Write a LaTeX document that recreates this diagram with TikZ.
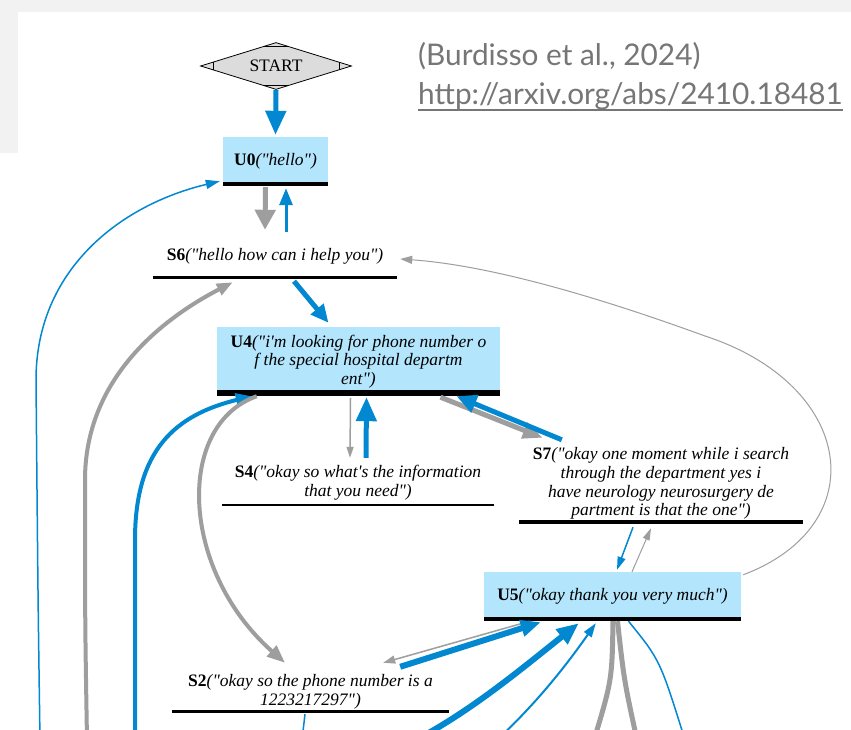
\documentclass[tikz,border=0pt]{standalone}
\usepackage{fontspec}
\setmainfont{Liberation Serif}[Ligatures=TeXOff]
\newfontfamily\citefont{Lato}
\usetikzlibrary{arrows.meta,calc,shapes.geometric}

\definecolor{boxblue}{HTML}{B3E5FC}
\definecolor{edgeblue}{HTML}{0288D1}
\definecolor{edgegray}{HTML}{9E9E9E}
\definecolor{startgray}{HTML}{DCDCDC}
\definecolor{bggray}{HTML}{F2F2F2}
\definecolor{citegray}{HTML}{767676}

\tikzset{
  lbl/.style={font=\fontsize{17.5pt}{18.6pt}\selectfont, align=center, inner sep=0pt},
  ubox/.style={lbl, rectangle, fill=boxblue},
  sbox/.style={lbl, rectangle},
  eb/.style={draw=edgeblue},
  eg/.style={draw=edgegray},
  ahead/.style 2 args={-{Triangle[length=#1pt,width=#2pt]}},
  citetext/.style={font=\citefont\fontsize{29.8pt}{34pt}\selectfont, text=citegray,
                   anchor=base west, inner sep=0pt},
}

\begin{document}
\begin{tikzpicture}[x=1pt,y=-1pt]
\useasboundingbox (0,0) rectangle (851,730);
\clip (0,0) rectangle (851,730);
\fill[white] (0,0) rectangle (851,730);
\fill[bggray] (0,0) rectangle (851,12);
\fill[bggray] (0,0) rectangle (18,153);

% reference
\node[citetext] (cite) at (418,66) {(Burdisso et al., 2024)};
\node[citetext] (url) at (418,105) {http://arxiv.org/abs/2410.18481};
\draw[citegray, line width=1.6pt] ($(url.base west)+(0,5)$) -- ($(url.base east)+(0,5)$);

% start node
\node[diamond, draw=black, fill=startgray, line width=0.8pt, shape aspect=3.2,
      minimum width=151pt, minimum height=47pt, inner sep=0pt,
      font=\fontsize{17.5pt}{18pt}\selectfont] (start) at (276,66) {START};
\draw[line width=0.8pt] ($(start.north)!0.17!(start.west)$) -- ($(start.north)!0.17!(start.east)$);
\draw[line width=0.8pt] ($(start.south)!0.17!(start.west)$) -- ($(start.south)!0.17!(start.east)$);
\draw[line width=0.8pt] ($(start.west)!0.17!(start.north)$) -- ($(start.west)!0.17!(start.south)$);
\draw[line width=0.8pt] ($(start.east)!0.17!(start.north)$) -- ($(start.east)!0.17!(start.south)$);

% states
\node[ubox, minimum width=105pt, minimum height=49pt] (u0) at (275.5,161.5)
  {\textbf{U0}\textit{("hello")}};
\node[sbox, minimum width=244pt, minimum height=46pt] (s6) at (275,256)
  {\textbf{S6}\textit{("hello how can i help you")}};
\node[ubox, minimum width=283pt, minimum height=69pt] (u4) at (358.5,361.5)
  {\textbf{U4}\textit{("i'm looking for phone number o}\\
   \textit{f the special hospital departm}\\
   \textit{ent")}};
\node[sbox, minimum width=272pt, minimum height=46pt] (s4) at (358,483)
  {\textbf{S4}\textit{("okay so what's the information}\\
   \textit{that you need")}};
\node[sbox, minimum width=284pt, minimum height=81pt] (s7) at (661,483.5)
  {\textbf{S7}\textit{("okay one moment while i search}\\
   \textit{through the department yes i}\\
   \textit{have neurology neurosurgery de}\\
   \textit{partment is that the one")}};
\node[ubox, minimum width=257pt, minimum height=49pt] (u5) at (612.5,596.5)
  {\textbf{U5}\textit{("okay thank you very much")}};
\node[sbox, minimum width=277pt, minimum height=43pt] (s2) at (310.5,691.5)
  {\textbf{S2}\textit{("okay so the phone number is a}\\
   \textit{1223217297")}};

% bottom bars
\draw[line width=4pt] ($(u0.south west)+(0,-2)$) -- ($(u0.south east)+(0,-2)$);
\draw[line width=6pt] ($(u4.south west)+(0,-3)$) -- ($(u4.south east)+(0,-3)$);
\draw[line width=4.5pt] ($(u5.south west)+(0,-2.25)$) -- ($(u5.south east)+(0,-2.25)$);
\draw[line width=3pt] ($(s6.south west)+(0,-1.5)$) -- ($(s6.south east)+(0,-1.5)$);
\draw[line width=2pt] ($(s4.south west)+(0,-1)$) -- ($(s4.south east)+(0,-1)$);
\draw[line width=4pt] ($(s7.south west)+(0,-2)$) -- ($(s7.south east)+(0,-2)$);
\draw[line width=3pt] ($(s2.south west)+(0,-1.5)$) -- ($(s2.south east)+(0,-1.5)$);

% ends of edges leaving the frame
\coordinate (lb) at (40,740);
\coordinate (gl) at (87,740);
\coordinate (bl) at (135,740);
\coordinate (b1) at (412,742);
\coordinate (b2) at (497,740);
\coordinate (g1) at (594,740);
\coordinate (g2) at (637,740);
\coordinate (b3) at (685,740);
\coordinate (b4) at (302,740);

% transitions
\draw[eb, line width=5pt, ahead={24}{20}] (start.south) -- ($(u0.north)+(0,-2)$);
\draw[eg, line width=5pt, ahead={20}{20}] ($(u0.south)+(-10,1)$) -- ($(s6.north)+(-10,-3)$);
\draw[eb, line width=3pt, ahead={17}{13}] ($(s6.north)+(11,-1)$) -- ($(u0.south)+(10.5,2)$);
\draw[eb, line width=5pt, ahead={18}{16}] ($(s6.south)+(19,2)$) -- ($(u4.north)+(-30,-4)$);

\draw[eg, line width=1.5pt, ahead={11}{7}] ($(u4.south)+(-8,2)$) -- ($(s4.north)+(-8,-2)$);
\draw[eb, line width=5pt, ahead={24}{20}] ($(s4.north)+(8,-2)$) -- ($(u4.south)+(8,1)$);

\draw[eg, line width=5pt, ahead={20}{16}] ($(u4.south)+(82,1)$) -- ($(s7.north west)+(24,-5)$);
\draw[eb, line width=5pt, ahead={20}{18}] ($(s7.north west)+(43,-3)$) -- ($(u4.south)+(98,0)$);

\draw[eb, line width=1.5pt, ahead={13}{8}] ($(s7.south)+(-28,3)$) -- ($(u5.north)+(4.5,-2)$);
\draw[eg, line width=1pt, ahead={12}{7}] ($(u5.north)+(19.5,0)$) -- ($(s7.south)+(-10,4)$);

\draw[eg, line width=1pt, ahead={12}{8}] ($(u5.north east)+(2,3)$)
  .. controls (875,525) and (855,385) .. (705,336)
  .. controls (620,305) and (500,266) .. ($(s6.east)+(3,3)$);

\draw[eb, line width=1.5pt, ahead={14}{9}] (lb) .. controls (38,600) .. (36,380)
  .. controls (36,270) and (120,205) .. ($(u0.south west)+(-3,-5)$);
\draw[eg, line width=4pt, ahead={16}{12}] (gl) .. controls (85,620) .. (85,480)
  .. controls (85,380) and (160,320) .. ($(s6.south west)+(80,3)$);
\draw[eb, line width=4pt, ahead={16}{13}] (bl) .. controls (135,640) .. (135,540)
  .. controls (135,450) and (175,415) .. ($(u4.south west)+(35,0)$);
\draw[eg, line width=4pt, ahead={18}{14}] ($(u4.south west)+(40,0)$)
  .. controls (175,425) and (180,570) .. ($(s2.north)+(-25.5,-7)$);

\draw[eg, line width=1.5pt, ahead={12}{8}] ($(u5.south west)+(46,0)$) -- ($(s2.north east)+(-66,-7)$);
\draw[eb, line width=6pt, ahead={20}{16}] ($(s2.north east)+(-49,-3)$) -- ($(u5.south west)+(57,1)$);

\draw[eb, line width=6pt, ahead={22}{18}] (b1) .. controls (470,712) and (520,670) .. ($(u5.south west)+(95,2)$);
\draw[eb, line width=2pt, ahead={14}{9}] (b2) .. controls (540,700) and (570,660) .. ($(u5.south west)+(112,2)$);
\draw[eg, line width=5pt] ($(u5.south)+(0.5,0)$) .. controls (612,680) .. (g1);
\draw[eg, line width=5pt] ($(u5.south)+(5,0)$) .. controls (624,680) .. (g2);
\draw[eb, line width=1.5pt] ($(u5.south)+(16,0)$) .. controls (660,660) .. (b3);
\draw[eb, line width=1.5pt] ($(s2.south)+(-5.5,1)$) -- (b4);
\end{tikzpicture}
\end{document}
